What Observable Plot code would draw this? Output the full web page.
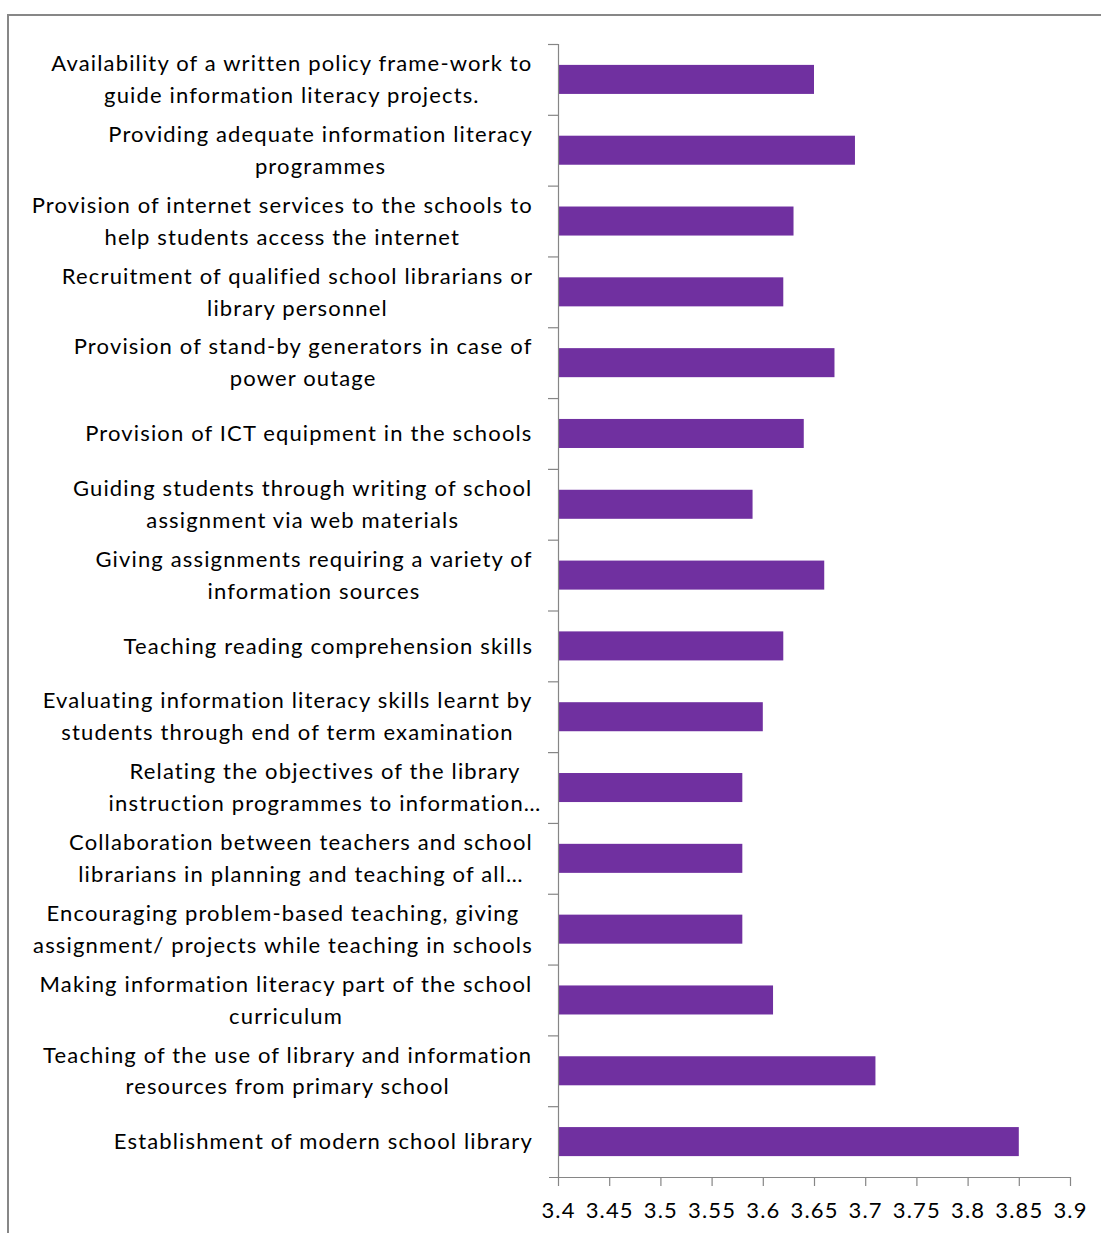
<!DOCTYPE html>
<html>
<head>
<meta charset="utf-8">
<script src="https://cdn.jsdelivr.net/npm/d3@7"></script>
<script src="https://cdn.jsdelivr.net/npm/@observablehq/plot@0.6"></script>
<style>
html, body { margin: 0; padding: 0; background: #fff; overflow: hidden; }
#chart { position: absolute; left: 0; top: 0; }
#frame { position: absolute; left: 7px; top: 14px; width: 1300px; height: 1400px;
  border-top: 2px solid #878787; border-left: 2.5px solid #878787; pointer-events: none; z-index: 2; }
</style>
</head>
<body>
<div id="chart"></div>
<div id="frame"></div>
<script>
// Categories (top to bottom), with the line breaks shown in the chart
const categories = [
  "Availability of a written policy frame-work to\nguide information literacy projects.",
  "Providing adequate information literacy\nprogrammes",
  "Provision of internet services to the schools to\nhelp students access the internet",
  "Recruitment of qualified school librarians or\nlibrary personnel",
  "Provision of stand-by generators in case of\npower outage",
  "Provision of ICT equipment in the schools",
  "Guiding students through writing of school\nassignment via web materials",
  "Giving assignments requiring a variety of\ninformation sources",
  "Teaching reading comprehension skills",
  "Evaluating information literacy skills learnt by\nstudents through end of term examination",
  "Relating the objectives of the library\ninstruction programmes to information…",
  "Collaboration between teachers and school\nlibrarians in planning and teaching of all…",
  "Encouraging problem-based teaching, giving\nassignment/ projects while teaching in schools",
  "Making information literacy part of the school\ncurriculum",
  "Teaching of the use of library and information\nresources from primary school",
  "Establishment of modern school library"
];
const values = [3.65, 3.69, 3.63, 3.62, 3.67, 3.64, 3.59, 3.66, 3.62, 3.60, 3.58, 3.58, 3.58, 3.61, 3.71, 3.85];
const xTicks = [3.4, 3.45, 3.5, 3.55, 3.6, 3.65, 3.7, 3.75, 3.8, 3.85, 3.9];

const data = categories.map((c, i) => ({category: c, value: values[i]}));

const W = 1101, H = 1233;
const mL = 558, mR = 31, mT = 44, mB = 56;
const step = (H - mT - mB) / categories.length;
const plotW = W - mL - mR;
const font = "Lato";
const fs = 22;
const ls = 1.15; // letter spacing in px
const gray = "#868686";
const xMin = xTicks[0], xMax = xTicks[xTicks.length - 1];

// measure label widths; a truncated line's ellipsis overhangs the label block (as in the source)
const ctx = document.createElement("canvas").getContext("2d");
ctx.font = `${fs}px ${font}`;
const lineW = l => ctx.measureText(l).width + ls * (l.length - 1);
const layout = categories.map(c => {
  const lines = c.split("\n");
  const core = d3.max(lines, l => lineW(l.replace(/…$/, "")));
  return core;
});
const gap = 26;

const labelMarks = categories.map((c, i) =>
  Plot.text([c], {
    y: d => d, text: d => d, frameAnchor: "left", textAnchor: "middle",
    dx: -(gap + layout[i] / 2), dy: -3, lineHeight: 1.45, fontSize: fs, fill: "#000"
  })
);

const chart = Plot.plot({
  width: W, height: H,
  marginLeft: mL, marginRight: mR, marginTop: mT, marginBottom: mB,
  style: {fontFamily: font, background: "transparent", letterSpacing: `${ls}px`},
  x: {domain: [xMin, xMax], axis: null},
  y: {type: "band", domain: categories, paddingInner: 0.59, paddingOuter: 0.295, round: false, axis: null},
  marks: [
    Plot.barX(data, {x1: () => xMin, x2: "value", y: "category", fill: "#7030A0"}),
    // category boundary ticks on the left
    Plot.ruleY(categories, {y: d => d, dy: -step / 2, insetLeft: -10, insetRight: plotW, stroke: gray, strokeWidth: 1.2}),
    // bottom axis line
    Plot.ruleY([categories[categories.length - 1]], {y: d => d, dy: step / 2, insetLeft: -9, stroke: gray, strokeWidth: 1.2}),
    // left axis line
    Plot.ruleX([xMin], {stroke: gray, strokeWidth: 1.2}),
    Plot.axisX({ticks: xTicks, tickSize: 9, tickPadding: 16, fontSize: fs, stroke: gray, strokeWidth: 1.2, fill: "#000", label: null, tickFormat: d => String(d)}),
    ...labelMarks
  ]
});
document.getElementById("chart").appendChild(chart);
</script>
</body>
</html>
